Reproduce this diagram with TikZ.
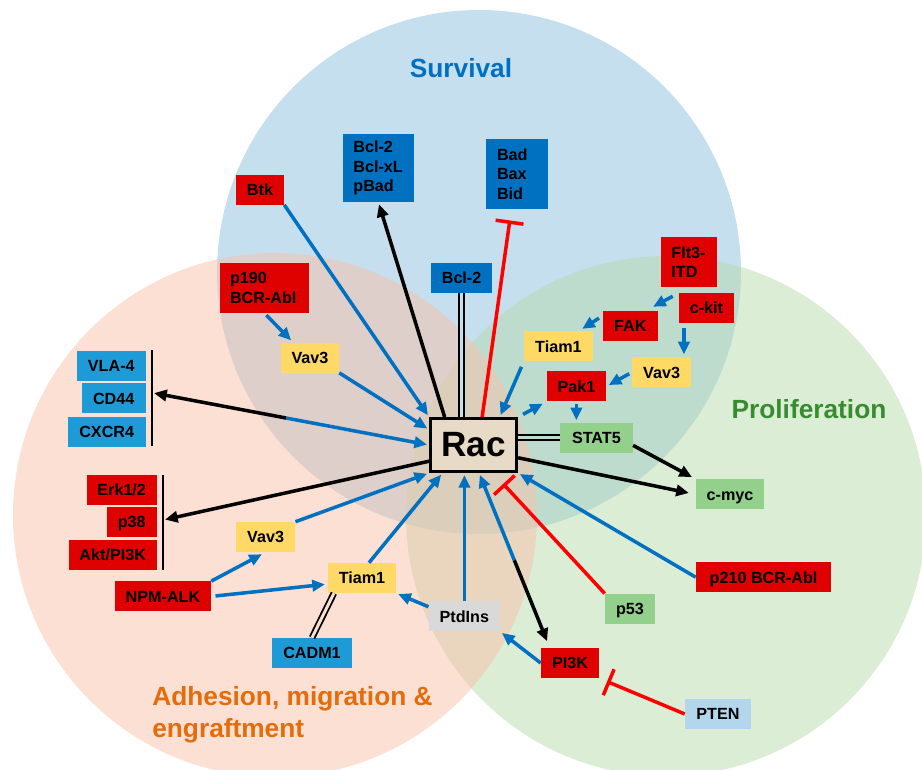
\documentclass[tikz,border=0pt]{standalone}
\usepackage{fontspec}
\setmainfont{Liberation Sans}
\usepackage{xcolor}
\usepackage{tikz}
\usetikzlibrary{calc,arrows.meta}

\definecolor{survfill}{RGB}{197,223,239}
\definecolor{prolfill}{RGB}{185,219,173}
\definecolor{adhfill}{RGB}{249,193,169}
\definecolor{survtext}{RGB}{0,112,192}
\definecolor{proltext}{RGB}{56,140,48}
\definecolor{adhtext}{RGB}{228,108,10}
\definecolor{cellred}{RGB}{223,0,0}
\definecolor{cellblue}{RGB}{0,112,192}
\definecolor{celllblue}{RGB}{30,155,215}
\definecolor{cellyellow}{RGB}{255,217,102}
\definecolor{cellgreen}{RGB}{146,208,140}
\definecolor{cellgrey}{RGB}{217,217,217}
\definecolor{cellpale}{RGB}{180,214,236}
\definecolor{racfill}{RGB}{231,218,199}
\definecolor{arrowblue}{RGB}{0,112,192}
\definecolor{inhred}{RGB}{255,0,0}

\newcommand\cellfont{\fontsize{11.5}{14}\selectfont\bfseries}
\newcommand\racfont{\fontsize{25}{25}\selectfont\bfseries}
\newcommand\zonefont{\fontsize{18.7}{20}\selectfont\bfseries}

\begin{document}
\begin{tikzpicture}[
  cell/.style={inner sep=0pt, minimum height=0.75cm, text height=8.3pt, text depth=0pt, font=\cellfont},
  stack/.style={text height={}, text depth={}, align=left},
  redcell/.style={cell, fill=cellred},
  bluecell/.style={cell, fill=cellblue},
  lbluecell/.style={cell, fill=celllblue},
  yellowcell/.style={cell, fill=cellyellow},
  greencell/.style={cell, fill=cellgreen},
  greycell/.style={cell, fill=cellgrey},
  palecell/.style={cell, fill=cellpale},
  blueflow/.style={line width=2.5pt, arrowblue, shorten >=1.5pt, -{Triangle[length=9pt,width=8pt]}},
  blackflow/.style={line width=2.5pt, black, shorten >=1.5pt, -{Triangle[length=9pt,width=8pt]}},
  inhib/.style={line width=2.5pt, inhred, -{Bar[width=20pt]}},
  dbl/.style={draw=black, double=#1, double distance=2.1pt, line width=1.3pt}
]

\useasboundingbox (0,0) rectangle (23.05,-19.25);
\clip (0,0) rectangle (23.05,-19.25);

\fill[survfill] (11.975,-6.8) circle (6.55);
\fill[prolfill, fill opacity=0.5] (16.65,-12.9) circle (6.5);
\fill[adhfill, fill opacity=0.5] (6.875,-12.875) circle (6.55);

\node[survtext, font=\zonefont] (survival) at (11.525,-1.7) {Survival};
\node[proltext, font=\zonefont] (prolif) at (20.225,-10.225) {Proliferation};
\node[adhtext, font=\zonefont, align=left, anchor=north west, inner sep=0pt] (adhesion) at (3.8,-17.15) {Adhesion, migration \&\\[3pt]engraftment};

\node[redcell, minimum width=1.2cm] (btk) at (6.5,-4.74) {Btk};
\node[bluecell, stack, minimum width=1.78cm, minimum height=1.7cm, text width=1.25cm] (bclxl) at (9.46,-4.2) {Bcl-2\\Bcl-xL\\pBad};
\node[bluecell, stack, minimum width=1.55cm, minimum height=1.75cm, text width=1.0cm] (badbax) at (12.925,-4.35) {Bad\\Bax\\Bid};
\node[bluecell, minimum width=1.52cm] (bcltwo) at (11.54,-6.95) {Bcl-2};
\node[redcell, stack, minimum width=2.22cm, minimum height=1.25cm, text width=1.72cm] (ponenine) at (6.61,-7.2) {p190\\BCR-Abl};
\node[yellowcell, minimum width=1.45cm] (vavu) at (7.75,-8.94) {Vav3};

\node[redcell, stack, minimum width=1.4cm, minimum height=1.25cm, text width=0.88cm] (flt) at (17.225,-6.55) {Flt3-\\ITD};
\node[redcell, minimum width=1.38cm] (ckit) at (17.66,-7.7) {c-kit};
\node[redcell, minimum width=1.38cm] (fak) at (15.76,-8.15) {FAK};
\node[yellowcell, minimum width=1.72cm] (tiamr) at (13.96,-8.66) {Tiam1};
\node[yellowcell, minimum width=1.48cm] (vavr) at (16.54,-9.31) {Vav3};
\node[redcell, minimum width=1.48cm] (pak) at (14.41,-9.66) {Pak1};
\node[greencell, minimum width=1.82cm] (stat) at (14.91,-10.94) {STAT5};

\node[draw, line width=2.1pt, fill=racfill, minimum width=2.15cm, minimum height=1.325cm, inner sep=0pt, font=\racfont] (rac) at (11.84,-11.125) {Rac};

\node[greencell, minimum width=1.7cm] (myc) at (18.25,-12.36) {c-myc};
\node[redcell, minimum width=3.38cm] (ptwoten) at (19.09,-14.43) {p210 BCR-Abl};
\node[greencell, minimum width=1.25cm] (pft) at (15.75,-15.22) {p53};
\node[greycell, minimum width=1.78cm] (ptd) at (11.61,-15.41) {PtdIns};
\node[redcell, minimum width=1.45cm] (pik) at (14.25,-16.575) {PI3K};
\node[palecell, minimum width=1.65cm] (pten) at (17.95,-17.85) {PTEN};

\node[lbluecell, minimum width=1.72cm, anchor=east] (vla) at (3.65,-9.15) {VLA-4};
\node[lbluecell, minimum width=1.6cm, anchor=east] (cd) at (3.65,-9.96) {CD44};
\node[lbluecell, minimum width=1.95cm, anchor=east] (cxcr) at (3.65,-10.8) {CXCR4};
\node[redcell, minimum width=1.75cm, anchor=east] (erk) at (3.925,-12.25) {Erk1/2};
\node[redcell, minimum width=1.25cm, anchor=east] (pte) at (3.925,-13.05) {p38};
\node[redcell, minimum width=2.2cm, anchor=east] (akt) at (3.925,-13.875) {Akt/PI3K};

\node[yellowcell, minimum width=1.48cm] (vavl) at (6.64,-13.425) {Vav3};
\node[yellowcell, minimum width=1.7cm] (tiaml) at (9.05,-14.45) {Tiam1};
\node[redcell, minimum width=2.4cm] (npm) at (4.075,-14.91) {NPM-ALK};
\node[lbluecell, minimum width=2cm] (cadm) at (7.8,-16.325) {CADM1};

\coordinate (adhtop) at (3.8,-8.75);
\coordinate (adhbot) at (3.8,-11.15);
\coordinate (sigtop) at (4.075,-11.875);
\coordinate (sigbot) at (4.075,-14.25);
\draw[line width=1.4pt] (adhtop) -- (adhbot);
\draw[line width=1.4pt] (sigtop) -- (sigbot);
\coordinate (adhtip) at ($(adhtop)!.445!(adhbot)$);
\coordinate (sigtip) at ($(sigtop)!.474!(sigbot)$);

\draw[blueflow] (btk.south east) -- (rac.north west);
\draw[blueflow] (vavu.south east) -- (rac.161);
\draw[blueflow, shorten <=2pt, shorten >=2pt] (ponenine.south) -- ([xshift=-12pt]vavu.north);
\draw[blackflow] (rac.136) -- (bclxl.south);
\draw[inhib, shorten >=8pt] (rac.73) -- ([xshift=-4pt]badbax.south);
\draw[dbl=survfill] (bcltwo.south) -- (bcltwo.south |- rac.north);

\draw[blueflow] ([shift={(0.3,-0.225)}]flt.south west) -- ([shift={(-0.175,0.075)}]fak.north east);
\draw[blueflow, shorten <=3pt, shorten >=2pt] ([xshift=-16pt]ckit.south) -- ([xshift=-16pt]ckit.south |- vavr.north);
\draw[blueflow, shorten <=3pt, shorten >=3pt] (fak.160) -- (tiamr.37);
\draw[blueflow, shorten <=4pt] (tiamr.south west) -- (rac.47);
\draw[blueflow, shorten <=2pt, shorten >=2pt] (vavr.west) -- (pak.east);
\draw[blueflow, shorten <=4pt, shorten >=3pt] (rac.north east) -- (pak.south west);
\draw[blueflow, shorten <=1.5pt] (pak.south) -- (pak.south |- stat.north);
\draw[dbl=survfill!50!prolfill] (stat.west -| rac.east) -- (stat.west);
\draw[blackflow, shorten >=3pt] (stat.-12) -- (myc.north west);
\draw[blackflow, shorten >=5pt] (rac.344) -- (myc.west);

\draw[blueflow] (ptwoten.west) -- (rac.south east);
\draw[inhib, shorten >=10.5pt] (pft.north west) -- (rac.305);
\coordinate (pikmid) at ($(rac.281)!.5!(pik.143)$);
\draw[blueflow] (pikmid) -- (rac.281);
\draw[blackflow, shorten >=5pt] (pikmid) -- (pik.143);
\draw[blueflow] (ptd.north) -- (ptd.north |- rac.south);
\draw[blueflow] (pik.west) -- (ptd.south east);
\draw[inhib, shorten >=6pt] (pten.west) -- (pik.south east);

\draw[blueflow] (ptd.165) -- (tiaml.south east);
\draw[dbl=adhfill!50!white] ([xshift=-20pt]tiaml.south) -- (cadm.north);
\draw[blueflow, shorten >=3pt] (npm.north east) -- (vavl.south);
\draw[blueflow, shorten <=3pt, shorten >=2pt] (npm.east) -- (tiaml.190);
\draw[blueflow] ([xshift=5pt]tiaml.north) -- (rac.222);
\draw[blueflow] (vavl.north east) -- (rac.south west);

\draw[blackflow] (rac.200) -- (sigtip);
\coordinate (adhmid) at ($(adhtip)!.485!(rac.west)$);
\draw[blackflow] (adhmid) -- (adhtip);
\draw[blueflow] (adhmid) -- (rac.west);

\end{tikzpicture}
\end{document}
